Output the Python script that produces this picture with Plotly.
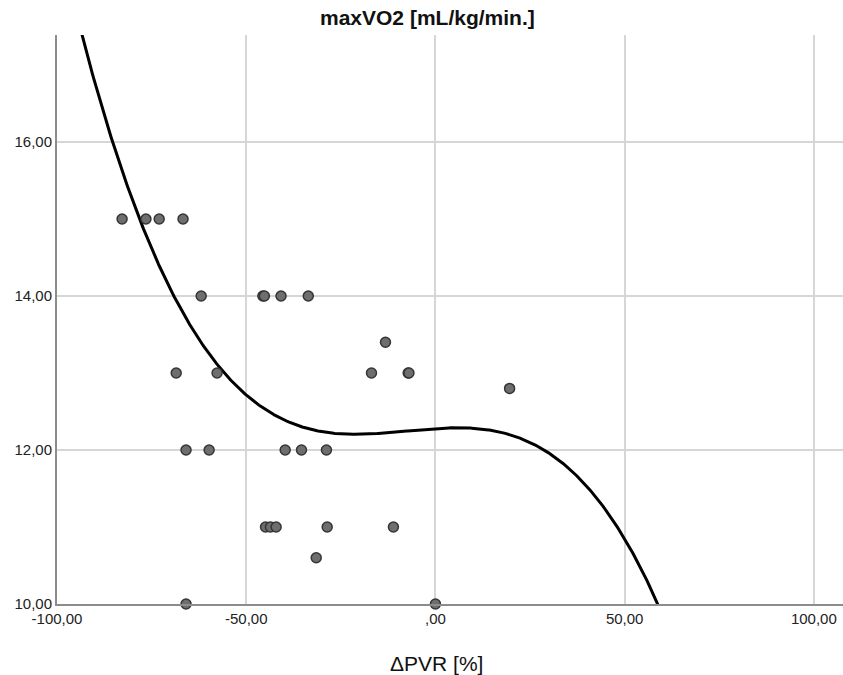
import numpy as np
import plotly.graph_objects as go

# Scatter data (ΔPVR [%], maxVO2 [mL/kg/min.])
dpvr = [-82.8, -76.5, -73.0, -66.7,
        -61.9, -45.6, -45.2, -40.8, -33.6,
        -68.5, -57.7, -16.9, -7.2, -7.0,
        -13.2, 19.6,
        -65.9, -59.8, -39.7, -35.4, -28.8,
        -44.9, -43.6, -42.1, -28.6, -11.1,
        -31.5,
        -65.9, 0.0]
maxvo2 = [15, 15, 15, 15,
          14, 14, 14, 14, 14,
          13, 13, 13, 13, 13,
          13.4, 12.8,
          12, 12, 12, 12, 12,
          11, 11, 11, 11, 11,
          10.6,
          10, 10]

# Points read along the cubic fit line drawn in the reference
fit_x = [-93.4, -85.2, -77.5, -69.3, -57.7, -50.0, -35.8, -22.5, 0.0, 6.6, 27.7, 41.0, 50.0, 58.9]
fit_y = [17.36, 16.0, 15.0, 14.0, 13.0, 12.75, 12.32, 12.22, 12.29, 12.30, 12.0, 11.48, 10.83, 10.0]

x_ticks = [-100, -50, 0, 50, 100]
x_tick_labels = ["-100,00", "-50,00", ",00", "50,00", "100,00"]
y_ticks = [10, 12, 14, 16]
y_tick_labels = ["10,00", "12,00", "14,00", "16,00"]

coef = np.polyfit(np.array(fit_x), np.array(fit_y), 3)
xs = np.linspace(-100, 108, 800)
ys = np.polyval(coef, xs)

fig = go.Figure()
fig.add_trace(go.Scatter(x=xs, y=ys, mode="lines",
                         line=dict(color="black", width=3), hoverinfo="skip"))
fig.add_trace(go.Scatter(x=dpvr, y=maxvo2, mode="markers", cliponaxis=False,
                         marker=dict(size=10, color="#6e6e6e",
                                     line=dict(color="#353535", width=1.5))))

fig.update_layout(
    width=843, height=675,
    margin=dict(l=57, r=0, t=35, b=71, pad=0),
    paper_bgcolor="white", plot_bgcolor="white",
    showlegend=False,
    font=dict(family="Liberation Sans, Arial, sans-serif", color="#222222"),
    annotations=[
        dict(text="<b>maxVO2 [mL/kg/min.]</b>", xref="paper", yref="paper",
             x=0.472, y=1.030, xanchor="center", yanchor="middle", showarrow=False,
             font=dict(size=21, color="#111111")),
        dict(text="ΔPVR [%]", xref="paper", yref="paper",
             x=0.483, y=-0.104, xanchor="center", yanchor="middle", showarrow=False,
             font=dict(size=21, color="#111111")),
    ],
)
fig.update_xaxes(range=[-100, 107.7], tickvals=x_ticks, ticktext=x_tick_labels,
                 showgrid=True, gridcolor="#d6d6d6", gridwidth=1.5,
                 showline=True, linecolor="#8c8c8c", linewidth=2,
                 zeroline=False, ticks="", tickfont=dict(size=15, color="#222"))
fig.update_yaxes(range=[10, 17.39], tickvals=y_ticks, ticktext=y_tick_labels,
                 showgrid=True, gridcolor="#d6d6d6", gridwidth=1.5,
                 showline=True, linecolor="#8c8c8c", linewidth=2,
                 zeroline=False, ticks="", tickfont=dict(size=15, color="#222"))

fig.write_html("out.html", config={"displayModeBar": False},
               post_script="document.body.style.margin='0';")
